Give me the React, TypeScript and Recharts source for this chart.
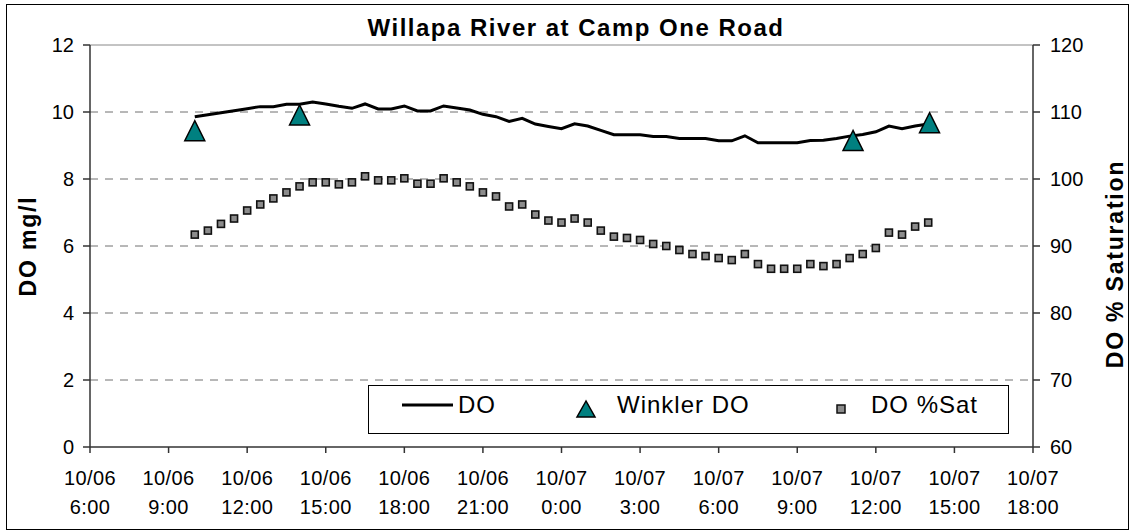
import React from "react";
import {
  ComposedChart,
  Line,
  Scatter,
  XAxis,
  YAxis,
  CartesianGrid,
  ReferenceLine,
  Legend,
  Customized,
} from "recharts";

document.body.style.margin = "0";

// hours since 10/06 0:00, logger readings every half hour
const logHours = [
  10, 10.5, 11, 11.5, 12, 12.5, 13, 13.5, 14, 14.5, 15, 15.5, 16, 16.5, 17,
  17.5, 18, 18.5, 19, 19.5, 20, 20.5, 21, 21.5, 22, 22.5, 23, 23.5, 24, 24.5,
  25, 25.5, 26, 26.5, 27, 27.5, 28, 28.5, 29, 29.5, 30, 30.5, 31, 31.5, 32,
  32.5, 33, 33.5, 34, 34.5, 35, 35.5, 36, 36.5, 37, 37.5, 38,
];

const doValues = [
  9.86, 9.92, 9.98, 10.04, 10.1, 10.16, 10.16, 10.23, 10.23, 10.3, 10.24,
  10.17, 10.11, 10.24, 10.09, 10.09, 10.18, 10.03, 10.03, 10.18, 10.12, 10.06,
  9.93, 9.86, 9.72, 9.81, 9.64, 9.57, 9.5, 9.65, 9.58, 9.45, 9.32, 9.32, 9.32,
  9.27, 9.27, 9.21, 9.21, 9.21, 9.14, 9.14, 9.29, 9.08, 9.08, 9.08, 9.08, 9.15,
  9.16, 9.21, 9.28, 9.33, 9.41, 9.58, 9.5, 9.58, 9.64,
];

const satValues = [
  91.7, 92.3, 93.3, 94.1, 95.3, 96.2, 97.1, 98.0, 98.9, 99.5, 99.5, 99.2, 99.5,
  100.4, 99.8, 99.8, 100.1, 99.3, 99.3, 100.1, 99.5, 98.9, 98.0, 97.4, 95.9,
  96.2, 94.7, 93.8, 93.5, 94.1, 93.5, 92.3, 91.4, 91.2, 90.9, 90.3, 90.0, 89.4,
  88.8, 88.5, 88.2, 87.9, 88.8, 87.3, 86.6, 86.6, 86.6, 87.3, 87.0, 87.3, 88.2,
  88.8, 89.7, 92.0, 91.7, 92.9, 93.5,
];

const winklerHours = [10, 14, 35.13, 38.05];
const winklerValues = [9.44, 9.91, 9.15, 9.68];

const xTicks = [6, 9, 12, 15, 18, 21, 24, 27, 30, 33, 36, 39, 42];
const xTickDates = [
  "10/06", "10/06", "10/06", "10/06", "10/06", "10/06",
  "10/07", "10/07", "10/07", "10/07", "10/07", "10/07", "10/07",
];
const xTickTimes = [
  "6:00", "9:00", "12:00", "15:00", "18:00", "21:00",
  "0:00", "3:00", "6:00", "9:00", "12:00", "15:00", "18:00",
];
const leftTicks = [0, 2, 4, 6, 8, 10, 12];
const rightTicks = [60, 70, 80, 90, 100, 110, 120];

const FONT = "Arial, 'Liberation Sans', sans-serif";
const AXIS = "#333";

const logData = logHours.map((h, i) => ({ h, do: doValues[i], sat: satValues[i] }));
const winklerData = winklerHours.map((h, i) => ({ h, w: winklerValues[i] }));

const XTick = (props: any) => {
  const { x, y, payload } = props;
  const i = xTicks.indexOf(payload.value);
  return (
    <text x={x} y={y} textAnchor="middle" fontFamily={FONT} fontSize={20} fill="#000" letterSpacing={0.4}>
      <tspan x={x} y={y + 30}>{xTickDates[i]}</tspan>
      <tspan x={x} y={y + 59}>{xTickTimes[i]}</tspan>
    </text>
  );
};

const Triangle = (props: any) => {
  const { cx, cy } = props;
  if (cx == null || cy == null) return null;
  return (
    <polygon
      points={`${cx},${cy - 10} ${cx - 10},${cy + 10} ${cx + 10},${cy + 10}`}
      fill="#008080"
      stroke="#000"
      strokeWidth={1.5}
    />
  );
};

const SquareDot = (props: any) => {
  const { cx, cy, index } = props;
  return (
    <rect key={`sq-${index}`} x={cx - 3.5} y={cy - 3.5} width={7} height={7} fill="#8c8c8c" stroke="#111" strokeWidth={1.6} />
  );
};

const LegendBox = () => (
  <svg width={641} height={49} style={{ display: "block" }}>
    <rect x={0.5} y={0.5} width={640} height={48} fill="#fff" stroke="#000" />
    <line x1={34} x2={85} y1={20} y2={20} stroke="#000" strokeWidth={3} />
    <text x={90} y={28} fontFamily={FONT} fontSize={24} letterSpacing={1}>DO</text>
    <polygon points="218,16 209,32 227,32" fill="#008080" stroke="#000" strokeWidth={1.5} />
    <text x={249} y={28} fontFamily={FONT} fontSize={24} letterSpacing={1}>Winkler DO</text>
    <rect x={469} y={20} width={8} height={8} fill="#8c8c8c" stroke="#111" strokeWidth={1.5} />
    <text x={503} y={28} fontFamily={FONT} fontSize={24} letterSpacing={1}>DO %Sat</text>
  </svg>
);

const Titles = () => (
  <g fontFamily={FONT} fontWeight="bold" fill="#000">
    <rect x={6.5} y={4.5} width={1122} height={525} fill="none" stroke="#000" strokeWidth={1} />
    <text x={576} y={36} textAnchor="middle" fontSize={24} letterSpacing={1.5}>
      Willapa River at Camp One Road
    </text>
    <text x={28} y={246} textAnchor="middle" dominantBaseline="central" fontSize={23} letterSpacing={1.8} transform="rotate(-90, 28, 246)">
      DO mg/l
    </text>
    <text x={1115} y={264} textAnchor="middle" dominantBaseline="central" fontSize={23} letterSpacing={1.8} transform="rotate(-90, 1115, 264)">
      DO % Saturation
    </text>
  </g>
);

export default function App() {
  return (
    <div style={{ width: 1135, height: 531, background: "#fff", position: "relative" }}>
      <ComposedChart width={1135} height={531} data={logData} margin={{ top: 45, right: 0, bottom: 0, left: 0 }}>
        <CartesianGrid
          yAxisId="left"
          vertical={false}
          horizontalValues={[2, 4, 6, 8, 10]}
          stroke="#707070"
          strokeDasharray="8 7"
        />
        <ReferenceLine yAxisId="left" y={12} stroke="#888" strokeWidth={1} />
        <XAxis
          dataKey="h"
          type="number"
          domain={[6, 42]}
          ticks={xTicks}
          interval={0}
          height={84}
          tickSize={6}
          axisLine={{ stroke: AXIS, strokeWidth: 1.5 }}
          tickLine={{ stroke: AXIS, strokeWidth: 1.5 }}
          tick={<XTick />}
        />
        <YAxis
          yAxisId="left"
          domain={[0, 12]}
          ticks={leftTicks}
          interval={0}
          width={90}
          tickSize={7}
          tickMargin={9}
          axisLine={{ stroke: AXIS, strokeWidth: 1.5 }}
          tickLine={{ stroke: AXIS, strokeWidth: 1.5 }}
          tick={{ fontSize: 20, fill: "#000", fontFamily: FONT }}
        />
        <YAxis
          yAxisId="right"
          orientation="right"
          domain={[60, 120]}
          ticks={rightTicks}
          interval={0}
          width={102}
          tickSize={7}
          tickMargin={10}
          axisLine={{ stroke: AXIS, strokeWidth: 1.5 }}
          tickLine={{ stroke: AXIS, strokeWidth: 1.5 }}
          tick={{ fontSize: 20, fill: "#000", fontFamily: FONT }}
        />
        <Line
          yAxisId="left"
          dataKey="do"
          name="DO"
          type="linear"
          stroke="#000"
          strokeWidth={3}
          dot={false}
          activeDot={false}
          isAnimationActive={false}
        />
        <Line
          yAxisId="right"
          dataKey="sat"
          name="DO %Sat"
          stroke="none"
          dot={SquareDot}
          activeDot={false}
          isAnimationActive={false}
        />
        <Scatter
          yAxisId="left"
          data={winklerData}
          dataKey="w"
          name="Winkler DO"
          shape={Triangle}
          isAnimationActive={false}
        />
        <Legend
          layout="horizontal"
          verticalAlign="middle"
          align="center"
          content={LegendBox}
          wrapperStyle={{ left: 368, top: 385, width: 641, height: 49 }}
        />
        <Customized component={Titles} />
      </ComposedChart>
    </div>
  );
}
